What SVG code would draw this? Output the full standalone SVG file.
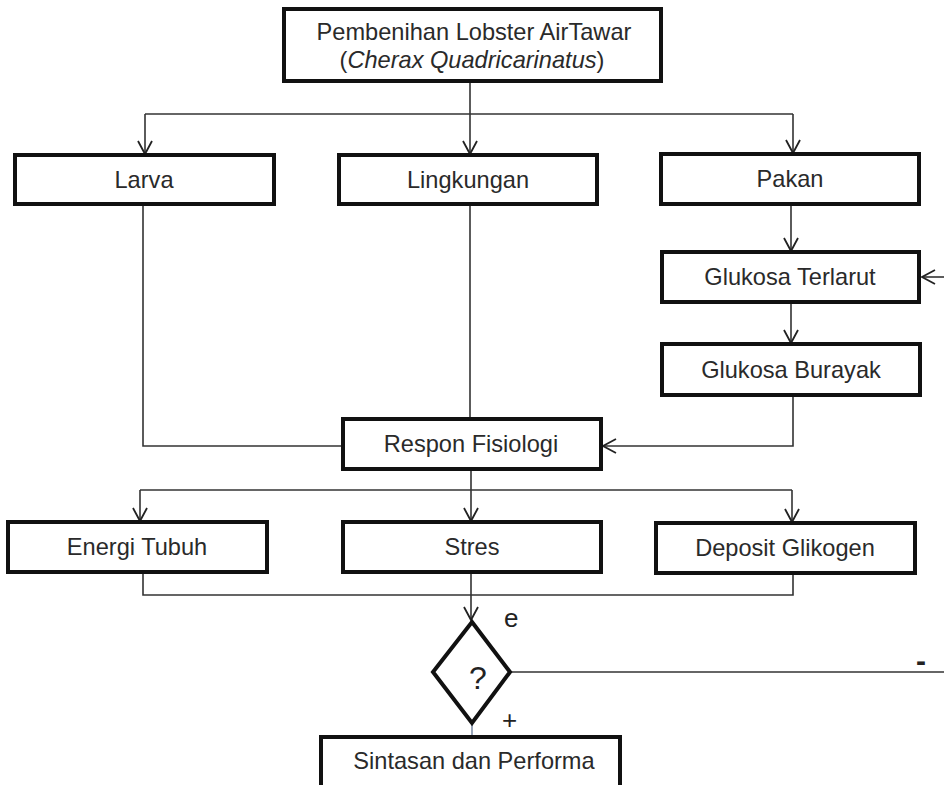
<svg xmlns="http://www.w3.org/2000/svg" width="944" height="785" viewBox="0 0 944 785">
<style>
  .box { fill: #fff; stroke: #111; stroke-width: 4; }
  .t { font-family: "Liberation Sans", Arial, sans-serif; font-size: 23.6px; fill: #2a2a2a; text-anchor: middle; }
  .c { fill: none; stroke: #333; stroke-width: 1.6; }
  .lbl { font-family: "Liberation Sans", Arial, sans-serif; fill: #222; }
</style>
<defs>
  <marker id="arr" markerUnits="userSpaceOnUse" markerWidth="16" markerHeight="16" viewBox="0 0 16 16" refX="14" refY="8" orient="auto">
    <path d="M1,1 L14,8 L1,15" fill="none" stroke="#222" stroke-width="1.8"/>
  </marker>
</defs>
<rect width="944" height="785" fill="#fff"/>

<g id="connectors">
  <path class="c" d="M470,81 V154" marker-end="url(#arr)"/>
  <path class="c" d="M145,114 H793"/>
  <path class="c" d="M145,114 V154" marker-end="url(#arr)"/>
  <path class="c" d="M793,114 V153" marker-end="url(#arr)"/>
  <path class="c" d="M791,204 V251" marker-end="url(#arr)"/>
  <path class="c" d="M791,302 V343" marker-end="url(#arr)"/>
  <path class="c" d="M944,277 H922" marker-end="url(#arr)"/>
  <path class="c" d="M143,204 V446 H343"/>
  <path class="c" d="M470,204 V419"/>
  <path class="c" d="M793,395 V446 H603" marker-end="url(#arr)"/>
  <path class="c" d="M471,469 V521" marker-end="url(#arr)"/>
  <path class="c" d="M140,490 H792"/>
  <path class="c" d="M140,490 V521" marker-end="url(#arr)"/>
  <path class="c" d="M792,490 V522" marker-end="url(#arr)"/>
  <path class="c" d="M143,572 V595 H793 V573"/>
  <path class="c" d="M471,572 V620" marker-end="url(#arr)"/>
  <path class="c" d="M510,672 H944"/>
  <path fill="none" stroke="#7f8fa8" stroke-width="1.6" d="M472,723 V737"/>
</g>

<g id="node-title">
  <rect class="box" x="284" y="9" width="377" height="72"/>
  <text class="t" x="474" y="40">Pembenihan Lobster AirTawar</text>
  <text class="t" x="472" y="68">(<tspan font-style="italic">Cherax Quadricarinatus</tspan>)</text>
</g>
<g id="node-larva">
  <rect class="box" x="15" y="155" width="259" height="49"/>
  <text class="t" x="144" y="188">Larva</text>
</g>
<g id="node-lingkungan">
  <rect class="box" x="339" y="155" width="258" height="49"/>
  <text class="t" x="468" y="188">Lingkungan</text>
</g>
<g id="node-pakan">
  <rect class="box" x="661" y="154" width="258" height="50"/>
  <text class="t" x="790" y="187">Pakan</text>
</g>
<g id="node-glukosa-terlarut">
  <rect class="box" x="662" y="252" width="257" height="50"/>
  <text class="t" x="790" y="285">Glukosa Terlarut</text>
</g>
<g id="node-glukosa-burayak">
  <rect class="box" x="662" y="344" width="258" height="51"/>
  <text class="t" x="791" y="378">Glukosa Burayak</text>
</g>
<g id="node-respon">
  <rect class="box" x="343" y="419" width="258" height="50"/>
  <text class="t" x="471" y="452">Respon Fisiologi</text>
</g>
<g id="node-energi">
  <rect class="box" x="8" y="522" width="259" height="50"/>
  <text class="t" x="137" y="555">Energi Tubuh</text>
</g>
<g id="node-stres">
  <rect class="box" x="343" y="522" width="258" height="50"/>
  <text class="t" x="472" y="555">Stres</text>
</g>
<g id="node-deposit">
  <rect class="box" x="656" y="523" width="259" height="50"/>
  <text class="t" x="785" y="556">Deposit Glikogen</text>
</g>
<g id="node-decision">
  <polygon points="472,622 510,672 472,723 433,672" fill="#fff" stroke="#111" stroke-width="4" stroke-linejoin="miter"/>
  <text class="lbl" x="478" y="689" font-size="32" text-anchor="middle">?</text>
  <text class="lbl" x="504" y="627" font-size="26">e</text>
  <text class="lbl" x="502" y="729" font-size="26">+</text>
  <text class="lbl" x="916" y="671" font-size="30" font-weight="bold">-</text>
</g>
<g id="node-sintasan">
  <rect class="box" x="321" y="737" width="299" height="60"/>
  <text class="t" x="474" y="769">Sintasan dan Performa</text>
</g>
</svg>
